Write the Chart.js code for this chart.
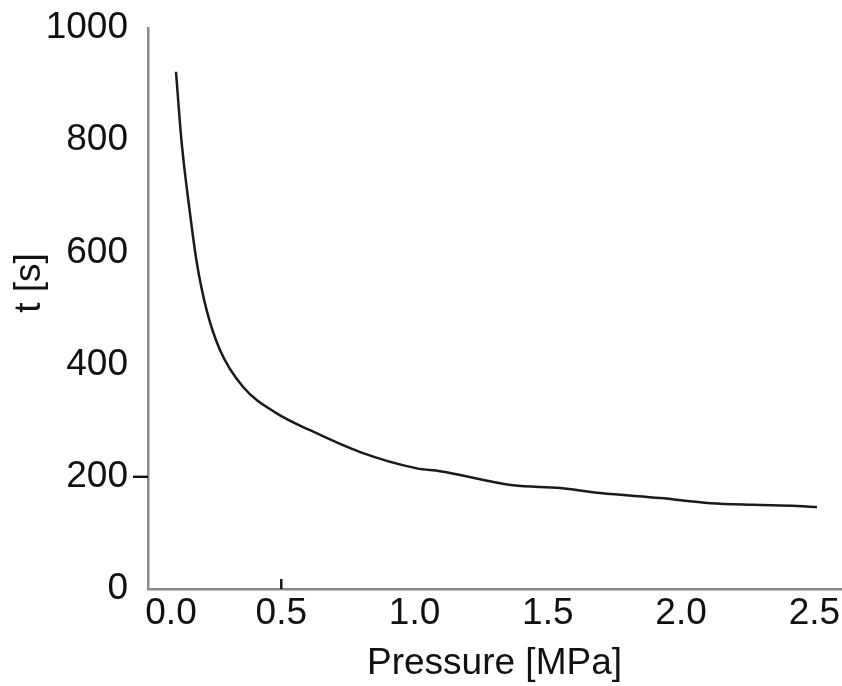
<!DOCTYPE html>
<html>
<head>
<meta charset="utf-8">
<script src="https://cdn.jsdelivr.net/npm/chart.js@4.4.1/dist/chart.umd.min.js"></script>
<style>
  html, body { margin: 0; padding: 0; background: #fff; }
  #wrap { width: 842px; height: 686px; }
</style>
</head>
<body>
<div id="wrap"><canvas id="curve"></canvas></div>
<script>
// pressure [MPa] vs time [s]
const pressure = [0.105, 0.126, 0.158, 0.183, 0.22, 0.27, 0.357, 0.483, 0.608, 0.796, 1.009, 1.096, 1.37, 1.547, 1.697, 1.922, 2.11, 2.27, 2.436, 2.51];
const timeS    = [922, 797, 668, 582, 497, 426, 360, 313, 283, 244, 215, 210, 185, 180, 171, 162, 153, 150, 148, 146];
const yTicks = [0, 200, 400, 600, 800, 1000];
const xTicks = [0, 0.5, 1.0, 1.5, 2.0, 2.5];
const markedY = [200];
const markedX = [0.5];
const yTitle = "t [s]";

const FONT = "'Liberation Sans', Arial, Helvetica, sans-serif";

// the original only shows tick marks at y=200 (outward) and x=0.5 (inward)
const tickMarks = {
  id: "tickMarks",
  beforeDraw(chart) {
    // nudge the "0.0" label right, away from the y axis "0"
    let items = chart.scales.x.getLabelItems(chart.chartArea);
    if (items.length && items[0].options.translation) items[0].options.translation[0] += 23;
  },
  afterDraw(chart) {
    const c = chart.ctx, xs = chart.scales.x, ys = chart.scales.y, a = chart.chartArea;
    c.save();
    c.strokeStyle = "#111";
    c.lineWidth = 2.4;
    markedY.forEach(v => {
      let py = ys.getPixelForValue(v);
      c.beginPath(); c.moveTo(a.left - 15, py); c.lineTo(a.left, py); c.stroke();
    });
    markedX.forEach(v => {
      let px = xs.getPixelForValue(v);
      c.beginPath(); c.moveTo(px, a.bottom); c.lineTo(px, a.bottom - 10); c.stroke();
    });
    // y title sits a bit above the middle in the original
    c.translate(30, 283);
    c.rotate(-Math.PI / 2);
    c.fillStyle = "#111";
    c.font = "37px " + FONT;
    c.textAlign = "center";
    c.textBaseline = "middle";
    c.fillText(yTitle, 0, 0);
    c.restore();
  }
};

let ctx = document.getElementById("curve").getContext("2d");
let chart = new Chart(ctx, {
  type: "line",
  data: {
    datasets: [{
      data: pressure.map((p, i) => ({ x: p, y: timeS[i] })),
      borderColor: "#1a1a1a",
      borderWidth: 2.5,
      pointRadius: 0,
      cubicInterpolationMode: "monotone",
      fill: false
    }]
  },
  options: {
    responsive: true,
    maintainAspectRatio: false,
    animation: false,
    layout: { padding: { left: 4, right: 1, top: 28, bottom: 4 } },
    plugins: { legend: { display: false }, tooltip: { enabled: false } },
    scales: {
      x: {
        type: "linear",
        min: 0,
        max: 2.6,
        afterBuildTicks: s => { s.ticks = xTicks.map(v => ({ value: v })); },
        afterFit: s => { s.height = 686 - 589 - 4; s.paddingLeft = 0; s.paddingRight = 0; },
        ticks: {
          padding: 6,
          color: "#111",
          font: { family: FONT, size: 37, lineHeight: 1 },
          callback: v => v.toFixed(1)
        },
        grid: { display: true, drawOnChartArea: false, drawTicks: false, color: "transparent" },
        border: { display: true, color: "#8a8a8a", width: 2.5 },
        title: {
          display: true,
          text: "Pressure [MPa]",
          color: "#111",
          font: { family: FONT, size: 37, lineHeight: 1 },
          padding: { top: 0, bottom: 0 }
        }
      },
      y: {
        min: 0,
        max: 1000,
        afterBuildTicks: s => { s.ticks = yTicks.map(v => ({ value: v })); },
        afterFit: s => { s.width = 144; s.paddingTop = 0; s.paddingBottom = 0; },
        ticks: {
          padding: 20,
          color: "#111",
          font: { family: FONT, size: 37, lineHeight: 1 },
          callback: v => String(v)
        },
        grid: { display: true, drawOnChartArea: false, drawTicks: false, color: "transparent" },
        border: { display: true, color: "#8a8a8a", width: 2.5 },
        title: { display: false }
      }
    }
  },
  plugins: [tickMarks]
});
</script>
</body>
</html>
